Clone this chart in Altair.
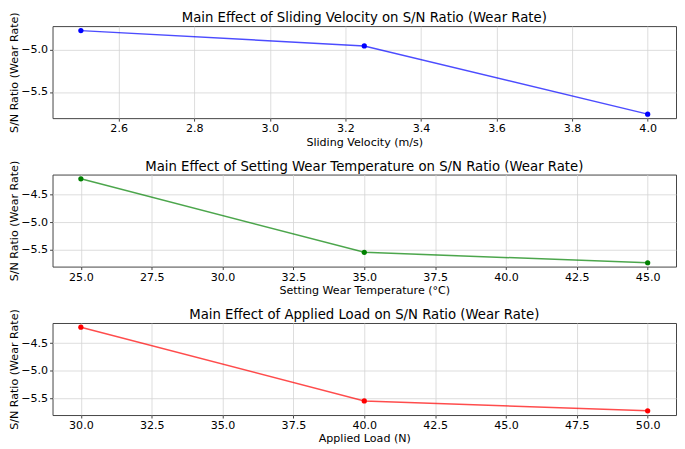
import altair as alt
import pandas as pd

FONT = "DejaVu Sans"

# Sliding velocity panel
velocity = [2.5, 3.25, 4.0]
sn_velocity = [-4.78, -4.96, -5.76]
velocity_ticks = [2.6, 2.8, 3.0, 3.2, 3.4, 3.6, 3.8, 4.0]

# Setting wear temperature panel
temperature = [25.0, 35.0, 45.0]
sn_temperature = [-4.21, -5.55, -5.74]
temperature_ticks = [25.0, 27.5, 30.0, 32.5, 35.0, 37.5, 40.0, 42.5, 45.0]

# Applied load panel
load = [30.0, 40.0, 50.0]
sn_load = [-4.21, -5.55, -5.73]
load_ticks = [30.0, 32.5, 35.0, 37.5, 40.0, 42.5, 45.0, 47.5, 50.0]

W, H = 630, 93


def panel(xs, ys, color, title, xtitle, xticks, xdom, ydom, yticks):
    df = pd.DataFrame({"x": xs, "y": ys})
    x = alt.X("x:Q", title=xtitle,
              scale=alt.Scale(domain=xdom, nice=False, zero=False),
              axis=alt.Axis(values=xticks, format=".1f"))
    y = alt.Y("y:Q", title="S/N Ratio (Wear Rate)",
              scale=alt.Scale(domain=ydom, nice=False, zero=False),
              axis=alt.Axis(values=yticks, format=".1f"))
    base = alt.Chart(df).encode(x=x, y=y)
    line = base.mark_line(color=color, strokeWidth=1.5, opacity=0.7)
    pts = base.mark_circle(color=color, size=28, opacity=1)
    # the y-axis title sticks out above the plot; pull the title back down
    return (line + pts).properties(
        width=W, height=H,
        title=alt.TitleParams(title, fontSize=13.4, font=FONT, fontWeight="normal",
                              color="black", anchor="middle", frame="group", offset=-13),
    )


p1 = panel(velocity, sn_velocity, "#0000ff",
           "Main Effect of Sliding Velocity on S/N Ratio (Wear Rate)",
           "Sliding Velocity (m/s)", velocity_ticks,
           [2.425, 4.075], [-5.807, -4.727], [-5.0, -5.5])
p2 = panel(temperature, sn_temperature, "#008000",
           "Main Effect of Setting Wear Temperature on S/N Ratio (Wear Rate)",
           "Setting Wear Temperature (°C)", temperature_ticks,
           [24, 46], [-5.81, -4.133], [-4.5, -5.0, -5.5])
p3 = panel(load, sn_load, "#ff0000",
           "Main Effect of Applied Load on S/N Ratio (Wear Rate)",
           "Applied Load (N)", load_ticks,
           [29, 51], [-5.806, -4.134], [-4.5, -5.0, -5.5])

chart = (
    alt.vconcat(p1, p2, p3, spacing=57, bounds="flush")
    .properties(padding={"left": 0, "top": 0, "right": 0, "bottom": 0})
    .configure_view(stroke="#444444", strokeWidth=1)
    .configure_axis(
        labelFont=FONT, titleFont=FONT, labelFontSize=11.2, titleFontSize=11.2,
        labelColor="black", titleColor="black", titleFontWeight="normal",
        grid=True, gridColor="#d4d4d4", gridWidth=0.8,
        domain=False, tickColor="#444444", tickSize=3, labelPadding=2,
        titlePadding=2,
    )
    .configure_axisY(titlePadding=1)
)

chart.save("out.html", embed_options={"renderer": "svg", "actions": False})
